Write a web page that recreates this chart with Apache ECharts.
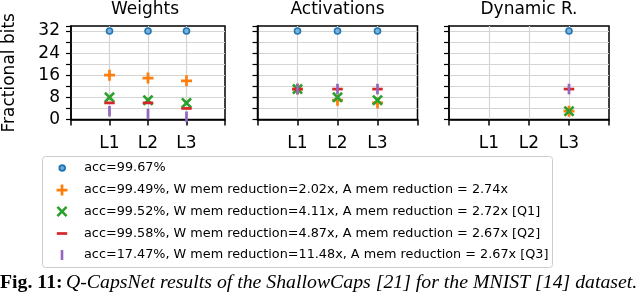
<!DOCTYPE html>
<html><head><meta charset="utf-8">
<script src="https://cdn.jsdelivr.net/npm/echarts@6/dist/echarts.min.js"></script>
<style>html,body{margin:0;padding:0;background:#fff}#c{width:640px;height:293px}</style>
</head><body><div id="c"></div>
<script>
// ---- data ----
const layers = ['L1', 'L2', 'L3'];
const panelTitles = ['Weights', 'Activations', 'Dynamic R.'];
const yTickLabels = [0, 8, 16, 24, 32];
const seriesNames = [
  'acc=99.67%',
  'acc=99.49%, W mem reduction=2.02x, A mem reduction = 2.74x',
  'acc=99.52%, W mem reduction=4.11x, A mem reduction = 2.72x [Q1]',
  'acc=99.58%, W mem reduction=4.87x, A mem reduction = 2.67x [Q2]',
  'acc=17.47%, W mem reduction=11.48x, A mem reduction = 2.67x [Q3]'
];
const weightsBlue   = [32, 32, 32];
const weightsOrange = [16, 15, 14];
const weightsGreen  = [8, 7, 6];
const weightsRed    = [6, 6, 4];
const weightsPurple = [3, 2, 1];
const actBlue   = [32, 32, 32];
const actOrange = [11, 7, 6];
const actGreen  = [11, 8, 7];
const actRed    = [11, 11, 11];
const actPurple = [11, 11, 11];
const dynBlue   = [null, null, 32];
const dynOrange = [null, null, 3];
const dynGreen  = [null, null, 3];
const dynRed    = [null, null, 11];
const dynPurple = [null, null, 11];
const captionBold = 'Fig. 11:';
const captionItalic = 'Q-CapsNet results of the ShallowCaps [21] for the MNIST [14] dataset.';

// ---- styling ----
const panels = [
  [weightsBlue, weightsOrange, weightsGreen, weightsRed, weightsPurple],
  [actBlue, actOrange, actGreen, actRed, actPurple],
  [dynBlue, dynOrange, dynGreen, dynRed, dynPurple]
];
const colors = ['#1f77b4', '#ff7f0e', '#2ca02c', '#d62728', '#9467bd'];
const CIRCLE = 'path://M5,0A5,5,0,1,1,5,10A5,5,0,1,1,5,0Z';
const PLUS = 'path://M3.75,0H6.25V3.75H10V6.25H6.25V10H3.75V6.25H0V3.75H3.75Z';
const CROSS = 'path://M0,1.7L1.7,0L5,3.3L8.3,0L10,1.7L6.7,5L10,8.3L8.3,10L5,6.7L1.7,10L0,8.3L3.3,5Z';
const MINUS = 'path://M0,0H10V2.6H0Z';
const PIPE = 'path://M0,0H2.6V10H0Z';
const symbols = ['circle', PLUS, CROSS, MINUS, PIPE];
const legendIcons = [CIRCLE, PLUS, CROSS, MINUS, PIPE];
const symSizes = [6, 11, 11, 10.5, 10.5];
const legendIconH = [5.5, 11, 11, 2.7, 10];
const legendIconW = [5.5 + 1.6, 11, 11, 2.7 * 10 / 2.6, 2.6];
const legendRowY = [168, 190, 211.5, 233.5, 255];
const gridLefts = [65, 257.5, 449];
const FONT = 'DejaVu Sans';

const grids = gridLefts.map(l => ({
  left: l, top: 26, width: 160, height: 93.5,
  show: true, borderColor: '#000', borderWidth: 1.5, backgroundColor: 'transparent'
}));

const xAxes = gridLefts.map((l, p) => ({
  type: 'value', gridIndex: p, min: 0, max: 4, interval: 1,
  axisLine: { show: true, lineStyle: { color: '#000', width: 1.5 } },
  axisTick: { show: true, length: 6, lineStyle: { color: '#000', width: 1.5 } },
  axisLabel: {
    fontFamily: FONT, fontSize: 17, color: '#000', margin: 16,
    formatter: v => (v >= 1 && v <= layers.length) ? layers[v - 1] : ''
  },
  splitLine: { show: true, showMinLine: false, showMaxLine: false, lineStyle: { color: '#d4d4d4', width: 1.2 } }
}));

const yAxes = gridLefts.map((l, p) => ({
  type: 'value', gridIndex: p, min: 0, max: 33.8, interval: 4,
  name: p === 0 ? 'Fractional bits' : '',
  nameLocation: 'middle', nameRotate: 90, nameGap: 53,
  nameTextStyle: { fontFamily: FONT, fontSize: 17, color: '#000' },
  axisLine: { show: true, lineStyle: { color: '#000', width: 1.5 } },
  axisTick: { show: true, length: 5, lineStyle: { color: '#000', width: 1.2 } },
  axisLabel: {
    show: p === 0, fontFamily: FONT, fontSize: 17, color: '#000', margin: 11,
    formatter: v => yTickLabels.indexOf(v) >= 0 ? String(v) : ''
  },
  splitLine: { show: true, showMinLine: false, showMaxLine: false, lineStyle: { color: '#d4d4d4', width: 1.2 } }
}));

const series = [];
panels.forEach((panel, p) => {
  panel.forEach((vals, s) => {
    series.push({
      type: 'scatter', name: seriesNames[s], xAxisIndex: p, yAxisIndex: p,
      data: vals.map((v, i) => v == null ? null : [i + 1, v]).filter(d => d),
      symbol: symbols[s], symbolSize: symSizes[s], symbolKeepAspect: true,
      itemStyle: s === 0
        ? { color: '#7fb0da', borderColor: colors[0], borderWidth: 1.6, opacity: 1 }
        : { color: colors[s], opacity: 1 },
      emphasis: { disabled: true },
      z: 3 + s, clip: false
    });
  });
});

const legends = seriesNames.map((n, s) => ({
  data: [{ name: n, icon: legendIcons[s] }],
  left: 62 - legendIconW[s] / 2, top: legendRowY[s] - 8, padding: 0,
  orient: 'vertical', itemWidth: 34, itemHeight: legendIconH[s], itemGap: 0,
  selectedMode: false,
  textStyle: { fontFamily: FONT, fontSize: 12.8, color: '#000', lineHeight: 16 }
}));

const graphics = [
  { type: 'rect', shape: { x: 42.5, y: 156.5, width: 510, height: 111, r: 3 },
    style: { fill: '#fff', stroke: '#cccccc', lineWidth: 1 }, z: -1 },
  { type: 'text', x: 0, y: 283,
    style: {
      text: '{b|' + captionBold + '} {i|' + captionItalic + '}',
      verticalAlign: 'middle',
      rich: {
        b: { fontFamily: 'Liberation Serif', fontWeight: 'bold', fontSize: 19.8, fill: '#000' },
        i: { fontFamily: 'Liberation Serif', fontStyle: 'italic', fontSize: 19.8, fill: '#000' }
      }
    } }
].concat(panelTitles.map((t, p) => ({
  type: 'text', x: gridLefts[p] + 80, y: 9.5,
  style: { text: t, align: 'center', verticalAlign: 'middle', fontFamily: FONT, fontSize: 17, fill: '#000' }
})));

const chart = echarts.init(document.getElementById('c'), null, { renderer: 'canvas' });
chart.setOption({
  animation: false,
  backgroundColor: '#fff',
  grid: grids, xAxis: xAxes, yAxis: yAxes,
  legend: legends, series: series, graphic: graphics
});
</script></body></html>
